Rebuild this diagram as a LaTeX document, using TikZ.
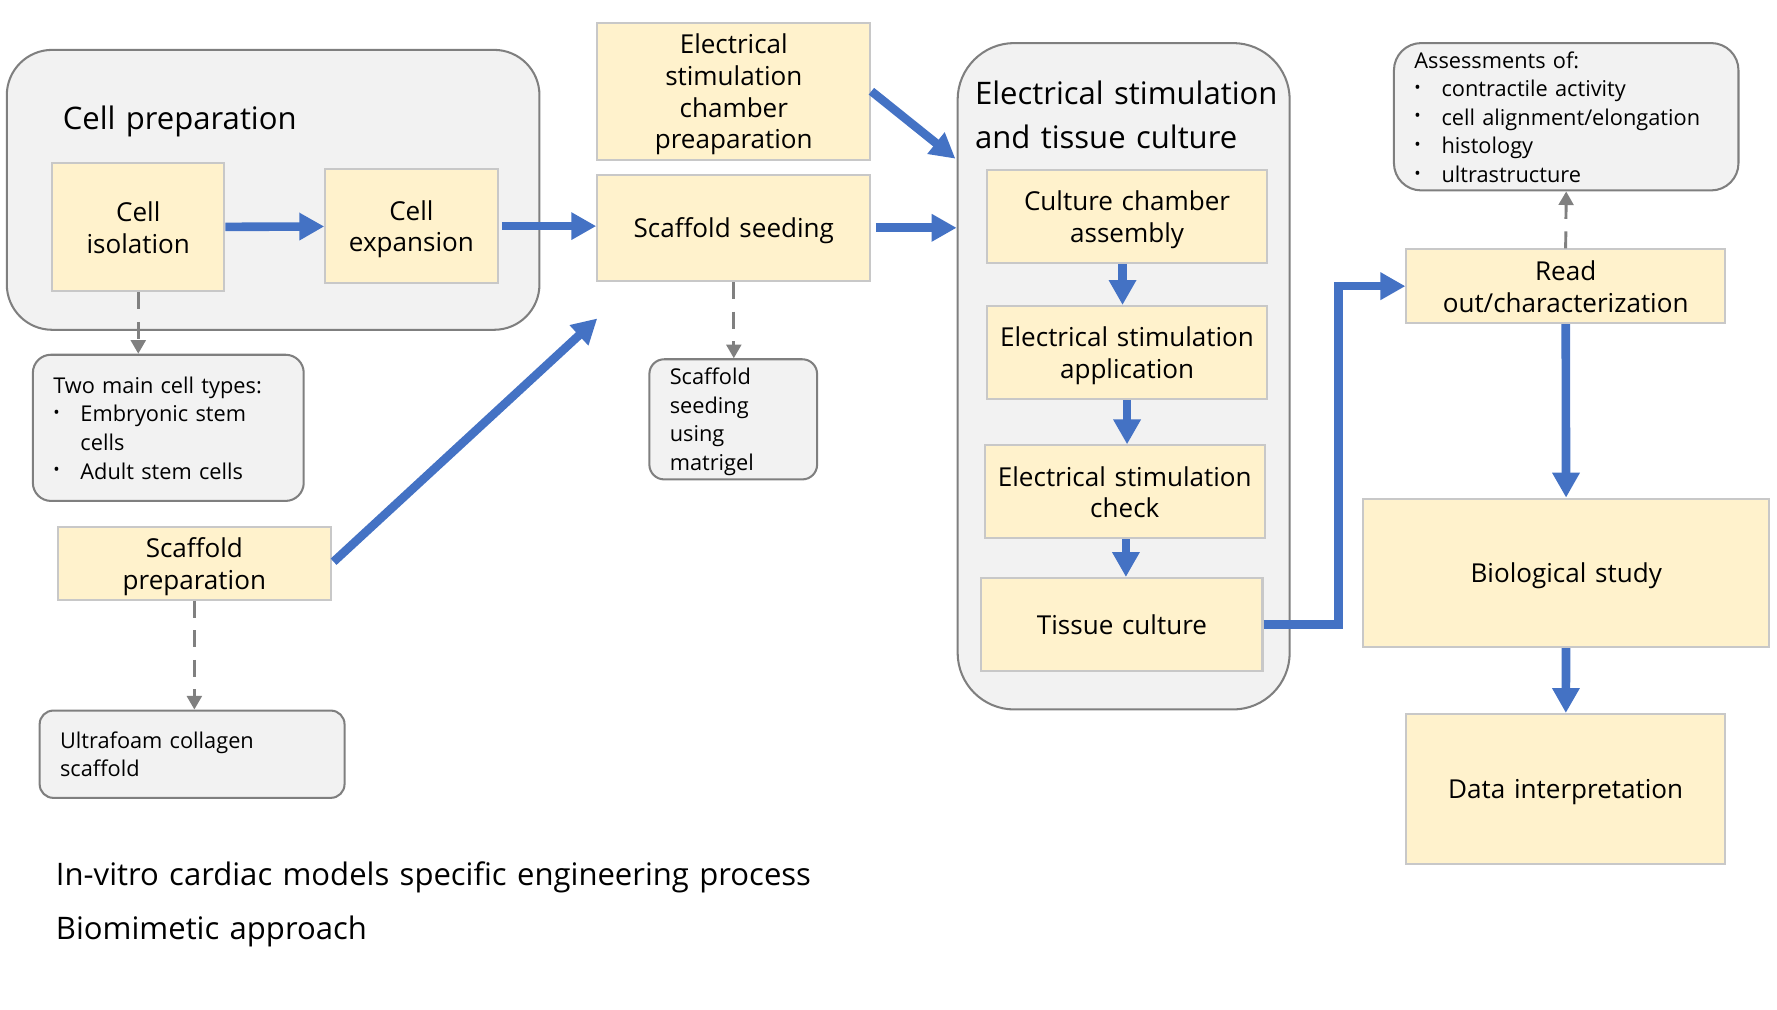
\documentclass[tikz,border=0pt]{standalone}
\usepackage{fontspec}
\setmainfont{Open Sans}
\usepackage{xcolor}
\usepackage{tikz}
\usetikzlibrary{positioning, arrows.meta, calc}

\definecolor{boxfill}{HTML}{FFF2CC}
\definecolor{boxline}{HTML}{C8C8C8}
\definecolor{grpfill}{HTML}{F2F2F2}
\definecolor{grpline}{HTML}{7F7F7F}
\definecolor{flow}{HTML}{4472C4}
\definecolor{aux}{HTML}{808080}

\newcommand{\itm}{\makebox[12pt][l]{\fontsize{7.5}{7.5}\selectfont\raisebox{0.35ex}{•}}}
% line struts, so that text sits as in a slide text box
\newcommand{\boxstrut}{\rule[-2.5pt]{0pt}{14pt}}
\newcommand{\notestrut}{\rule[-2.6pt]{0pt}{12.6pt}}
\newcommand{\ttlstrut}{\rule[-4.2pt]{0pt}{19pt}}

\begin{document}
\begin{tikzpicture}[
    x=0.5pt, y=-0.5pt,
    box/.style={draw=boxline, line width=0.9pt, fill=boxfill, align=center, text width=#1, inner xsep=0pt, inner ysep=2pt,
      font=\fontsize{11.5}{14}\selectfont, execute at begin node=\boxstrut, execute at end node=\boxstrut},
    group/.style={draw=grpline, line width=0.9pt, fill=grpfill, rounded corners=#1},
    note/.style={draw=grpline, line width=0.9pt, fill=grpfill, rounded corners=8pt, align=left, inner xsep=9pt, inner ysep=0pt,
      font=\fontsize{9.6}{12.6}\selectfont, execute at begin node=\notestrut, execute at end node=\notestrut},
    ttl/.style={inner sep=0pt, align=left, text width=340pt, font=\fontsize{13.7}{19}\selectfont,
      execute at begin node=\ttlstrut, execute at end node=\ttlstrut},
    barrow/.style={-{Triangle[length=11pt, width=11.5pt]}, line width=3.8pt, flow},
    darrow/.style={-{Triangle[length=6pt, width=6.5pt]}, line width=1.3pt, aux, dash pattern=on 7.5pt off 5.5pt},
  ]
  \useasboundingbox (0,0) rectangle (1568,891);

  % ---- Groups ----
  \node[group=20pt, minimum width=235pt, minimum height=123.5pt] (cellgrp) at (241,167.5) {};
  \node[ttl, anchor=west] (celltitle) at (55,104) {Cell preparation};
  \node[group=25pt, minimum width=146.5pt, minimum height=294pt] (esgrp) at (991.5,332) {};
  \node[ttl, anchor=west] (estitle) at (860,101) {Electrical stimulation\\and tissue culture};

  % ---- Cell preparation ----
  \node[box=76pt, minimum height=56.5pt] (isol) at (122,200.5) {Cell\\isolation};
  \node[box=76pt, minimum height=50.5pt] (expan) at (363,199.5) {Cell\\expansion};
  \node[note, text width=101.5pt, minimum height=64.5pt] (types) at (148.5,377.5)
    {Two main cell types:\\\itm Embryonic stem\\\hspace*{12pt}cells\\\itm Adult stem cells};

  % ---- Scaffold ----
  \node[box=120.5pt, minimum height=32pt] (scafprep) at (171.5,497) {Scaffold\\preparation};
  \node[note, rounded corners=6pt, text width=116.5pt, minimum height=38.5pt] (ultra) at (169.5,665.5)
    {Ultrafoam collagen\\scaffold};
  \node[box=120.5pt, minimum height=55.5pt] (chamber) at (647.5,80.5)
    {Electrical\\stimulation\\chamber\\preaparation};
  \node[box=120.5pt, minimum height=47pt] (seeding) at (647.5,201) {Scaffold seeding};
  \node[note, rounded corners=6.5pt, text width=56pt, minimum height=53pt] (matrigel) at (647,370)
    {Scaffold\\seeding\\using\\matrigel};

  % ---- Stimulation and culture ----
  \node[box=123.5pt, minimum height=41pt] (assembly) at (994.5,191) {Culture chamber\\assembly};
  \node[box=123.5pt, minimum height=41pt] (applic) at (994.5,311) {Electrical stimulation\\application};
  \node[box=123.5pt, minimum height=41pt] (check) at (992.5,434) {Electrical stimulation\\check};
  \node[box=124pt, minimum height=41pt] (tissue) at (990,551) {Tissue culture};

  % ---- Read out ----
  \node[box=140.5pt, minimum height=32.5pt] (readout) at (1381.5,252.5) {Read\\out/characterization};
  \node[note, rounded corners=12pt, text width=134pt, minimum height=65pt] (assess) at (1382,103)
    {Assessments of:\\\itm contractile activity\\\itm cell alignment/elongation\\\itm histology\\\itm ultrastructure};
  \node[box=179pt, minimum height=65.5pt] (bio) at (1382,505.5) {Biological study};
  \node[box=140.5pt, minimum height=66pt] (data) at (1381.5,696) {Data interpretation};

  % ---- Captions ----
  \node[ttl, anchor=west] (cap1) at (49,771) {In-vitro cardiac models specific engineering process};
  \node[ttl, anchor=west] (cap2) at (49,818) {Biomimetic approach};

  \coordinate (esin) at (843,140);
  \coordinate (seedin) at (527,281);

  % ---- Arrows ----
  \draw[barrow] (isol) -- (expan);
  \draw[barrow, shorten <=1.5pt] (expan.east) -- (expan.east -| seeding.west);
  \draw[barrow, shorten <=2pt] (seeding.east) -- (seeding.east -| esgrp.west);
  \draw[barrow] (chamber.east) -- (esin);
  \draw[barrow, shorten <=1pt] (scafprep.east) -- (seedin);
  \draw[barrow] ([xshift=-2pt]assembly.south) -- ([xshift=-2pt]assembly.south |- applic.north);
  \draw[barrow] (applic.south) -- (applic.south |- check.north);
  \draw[barrow] ([xshift=0.5pt]check.south) -- ([xshift=0.5pt]check.south |- tissue.north);
  \draw[barrow] (tissue.east) -- ++(33pt,0) |- (readout.west);
  \draw[barrow] (readout) -- (bio);
  \draw[barrow] (bio) -- (data);
  \draw[darrow] (isol.south) -- (isol.south |- types.north);
  \draw[darrow] (scafprep.south) -- (scafprep.south |- ultra.north);
  \draw[darrow] (seeding.south) -- (seeding.south |- matrigel.north);
  \draw[darrow] (readout.north) -- (assess.south);

\end{tikzpicture}
\end{document}
